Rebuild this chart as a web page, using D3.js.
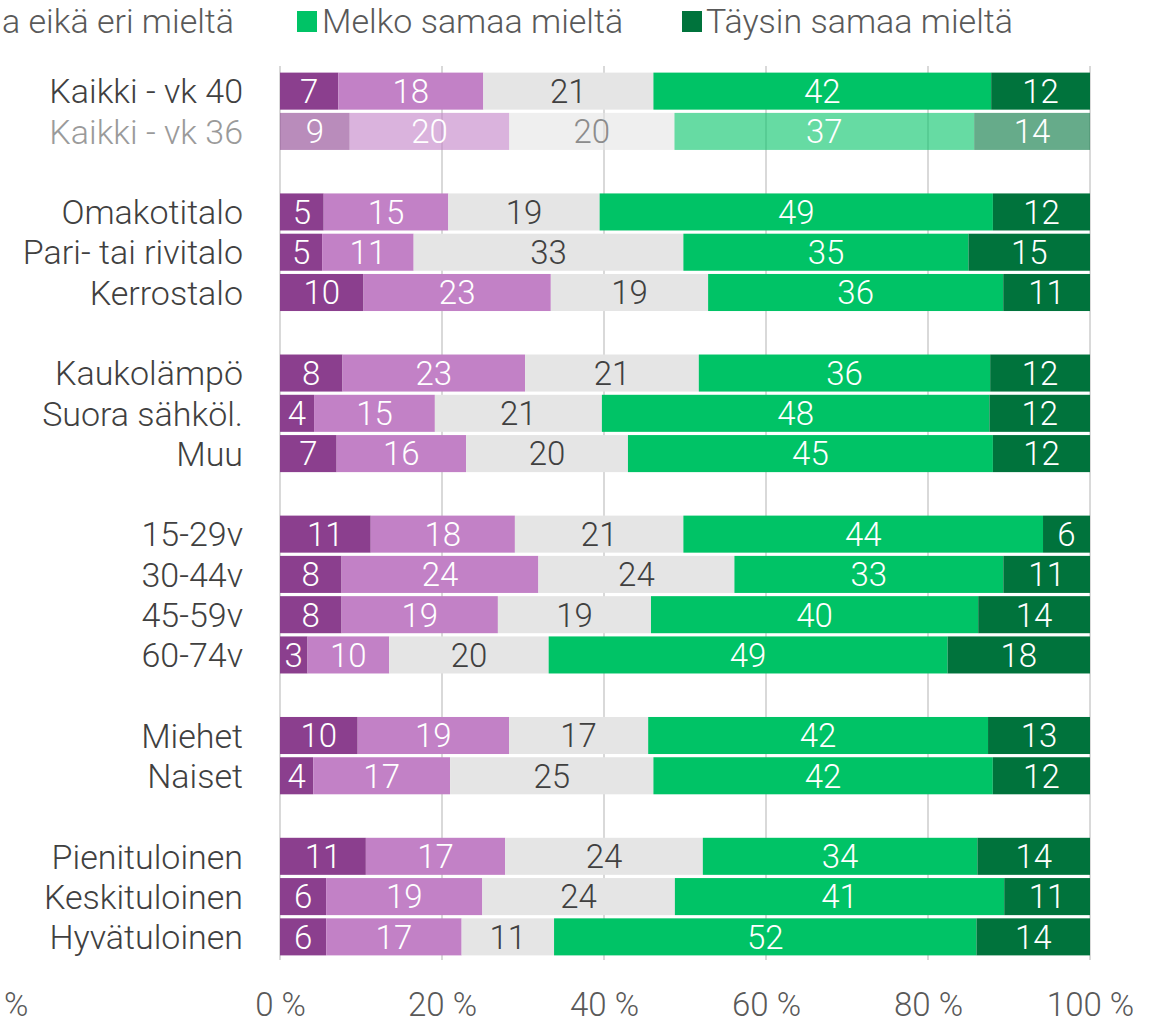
<!DOCTYPE html>
<meta charset="utf-8">
<script src="https://d3js.org/d3.v7.min.js"></script>
<style>
  body { margin: 0; background: #fff; }
  text { font-family: Roboto, "Noto Sans", sans-serif; font-weight: 300; }
</style>
<body>
<div id="chart"></div>

<script>
// data (shares in %, labels are these rounded)
var categories = ["Kaikki - vk 40", "Kaikki - vk 36",
  "Omakotitalo", "Pari- tai rivitalo", "Kerrostalo",
  "Kaukolämpö", "Suora sähköl.", "Muu",
  "15-29v", "30-44v", "45-59v", "60-74v",
  "Miehet", "Naiset",
  "Pienituloinen", "Keskituloinen", "Hyvätuloinen"];
// a blank row goes in front of each of these
var groupStarts = ["Omakotitalo", "Kaukolämpö", "15-29v", "Miehet", "Pienituloinen"];

var seriesNames = ["Täysin eri mieltä", "Melko eri mieltä", "Ei samaa eikä eri mieltä",
  "Melko samaa mieltä", "Täysin samaa mieltä"];

var taysinEri   = [7.2, 8.6, 5.4, 5.2, 10.3, 7.7, 4.2, 7.0, 11.2, 7.6, 7.6, 3.4, 9.6, 4.1, 10.6, 5.7, 5.7];
var melkoEri    = [17.9, 19.7, 15.4, 11.3, 23.1, 22.5, 14.9, 16.0, 17.8, 24.3, 19.3, 10.1, 18.7, 16.9, 17.2, 19.3, 16.7];
var eiSamaaEri  = [21.0, 20.4, 18.7, 33.3, 19.4, 21.4, 20.6, 20.0, 20.8, 24.2, 18.9, 19.7, 17.2, 25.1, 24.4, 23.8, 11.4];
var melkoSamaa  = [41.7, 37.0, 48.6, 35.2, 36.4, 35.9, 47.8, 45.1, 44.4, 33.2, 40.4, 49.3, 42.0, 41.9, 33.9, 40.7, 52.1];
var taysinSamaa = [12.2, 14.3, 12.0, 15.0, 10.7, 12.3, 12.4, 12.0, 5.8, 10.7, 13.8, 17.6, 12.6, 12.0, 13.9, 10.6, 14.0];

var xTicks = [0, 0.2, 0.4, 0.6, 0.8, 1];
var oldRow = "Kaikki - vk 36";   // drawn faded

var colors = ["#8b3f8e", "#c281c6", "#e5e5e5", "#00c366", "#00733c"];

// build rows for the stack
var seriesValues = [taysinEri, melkoEri, eiSamaaEri, melkoSamaa, taysinSamaa];
var rows = categories.map(function(c, i) {
  var r = { cat: c };
  seriesNames.forEach(function(s, j) { r[s] = seriesValues[j][i]; });
  return r;
});

// y domain with blank slots between groups
var yDomain = [];
categories.forEach(function(c, i) {
  if (groupStarts.indexOf(c) >= 0) yDomain.push("gap" + i);
  yDomain.push(c);
});

var width = 1150, height = 1023;

var svg = d3.select("#chart")
  .append("svg")
    .attr("width", width)
    .attr("height", height);

var x = d3.scaleLinear()
  .domain([0, 1])
  .range([280, 1090]);

var y = d3.scaleBand()
  .domain(yDomain)
  .range([71, 957])
  .paddingInner(0.08)
  .paddingOuter(0.04);

// gridlines
svg.append("g")
  .selectAll("line")
  .data(xTicks)
  .enter().append("line")
    .attr("x1", function(d) { return x(d); })
    .attr("x2", function(d) { return x(d); })
    .attr("y1", 66)
    .attr("y2", 960)
    .attr("stroke", "#d9d9d9")
    .attr("stroke-width", 2);

var stacked = d3.stack()
  .keys(seriesNames)
  .offset(d3.stackOffsetExpand)(rows);

// bars
var layer = svg.append("g")
  .selectAll("g")
  .data(stacked)
  .enter().append("g")
    .attr("fill", function(d, i) { return colors[i]; });

layer.selectAll("rect")
  .data(function(d) { return d; })
  .enter().append("rect")
    .attr("x", function(d) { return x(d[0]); })
    .attr("width", function(d) { return x(d[1]) - x(d[0]); })
    .attr("y", function(d) { return y(d.data.cat); })
    .attr("height", y.bandwidth())
    .attr("fill-opacity", function(d) { return d.data.cat === oldRow ? 0.6 : 1; });

// value labels
layer.each(function(s, i) {
  d3.select(this).selectAll("text")
    .data(s)
    .enter().append("text")
      .attr("x", function(d) { return x((d[0] + d[1]) / 2); })
      .attr("y", function(d) { return y(d.data.cat) + y.bandwidth() / 2; })
      .attr("dy", "0.36em")
      .attr("text-anchor", "middle")
      .style("font-size", "33px")
      .attr("fill", function(d) {
        if (i !== 2) return "#ffffff";
        return d.data.cat === oldRow ? "#8c8c8c" : "#404040";
      })
      .text(function(d) { return Math.round(d.data[s.key]); });
});

// category labels
svg.append("g")
  .selectAll("text")
  .data(categories)
  .enter().append("text")
    .attr("x", 243)
    .attr("y", function(d) { return y(d) + y.bandwidth() / 2; })
    .attr("dy", "0.36em")
    .attr("text-anchor", "end")
    .style("font-size", "34px")
    .attr("fill", function(d) { return d === oldRow ? "#9a9a9a" : "#404040"; })
    .text(function(d) { return d; });

// x axis
var xAxis = svg.append("g")
  .attr("transform", "translate(0,993)")
  .call(d3.axisBottom(x)
    .tickValues(xTicks)
    .tickSize(0)
    .tickPadding(0)
    .tickFormat(function(d) { return Math.round(d * 100) + " %"; }));
xAxis.select(".domain").remove();
xAxis.selectAll("text")
  .style("font-size", "33px")
  .style("font-family", "Roboto, sans-serif")
  .style("font-weight", 300)
  .attr("fill", "#595959");

// leftover "%" at the bottom left edge
svg.append("text")
  .attr("x", 4)
  .attr("y", 1016)
  .style("font-size", "33px")
  .attr("fill", "#595959")
  .text("%");

// legend (left part cut off in the picture)
svg.append("text")
  .attr("x", 2)
  .attr("y", 33)
  .style("font-size", "34px")
  .attr("fill", "#595959")
  .text("a eikä eri mieltä");

var legendItems = [
  { name: seriesNames[3], color: colors[3], sx: 297, tx: 322 },
  { name: seriesNames[4], color: colors[4], sx: 682, tx: 706 }
];
var leg = svg.append("g")
  .selectAll("g")
  .data(legendItems)
  .enter().append("g");
leg.append("rect")
  .attr("x", function(d) { return d.sx; })
  .attr("y", 11)
  .attr("width", 20)
  .attr("height", 21)
  .attr("fill", function(d) { return d.color; });
leg.append("text")
  .attr("x", function(d) { return d.tx; })
  .attr("y", 33)
  .style("font-size", "34px")
  .attr("fill", "#595959")
  .text(function(d) { return d.name; });
</script>
</body>
</html>
